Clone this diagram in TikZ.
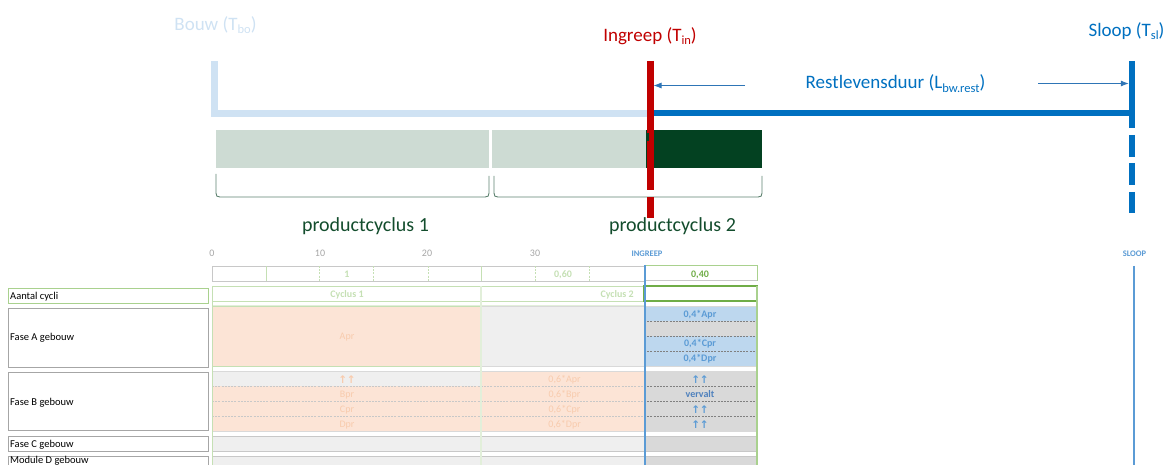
\documentclass[tikz,border=0pt]{standalone}
\usepackage{fontspec}
\setmainfont{Carlito}
\newfontfamily\arrowfont{DejaVu Sans}
\usetikzlibrary{arrows.meta}
\definecolor{lbl}{HTML}{CFE2F3}
\definecolor{dbl}{HTML}{0070C0}
\definecolor{mbl}{HTML}{5B9BD5}
\definecolor{abl}{HTML}{2E75B6}
\definecolor{ired}{HTML}{C00000}
\definecolor{bargr}{HTML}{CDDBD3}
\definecolor{dgrn}{HTML}{034121}
\definecolor{brc}{HTML}{5E8270}
\definecolor{pcgrn}{HTML}{134D2D}
\definecolor{lgrn}{HTML}{C5E0B4}
\definecolor{vlgrn}{HTML}{E2EFDA}
\definecolor{tgrn}{HTML}{A9D18E}
\definecolor{mgrn}{HTML}{70AD47}
\definecolor{salm}{HTML}{FCE4D6}
\definecolor{salmt}{HTML}{F8CBAD}
\definecolor{gry1}{HTML}{EFEFEF}
\definecolor{gry2}{HTML}{D9D9D9}
\definecolor{gryl}{HTML}{C8C8C8}
\definecolor{gryd}{HTML}{808080}
\definecolor{boxg}{HTML}{A6A6A6}
\definecolor{axg}{HTML}{A6A6A6}
\definecolor{cblu}{HTML}{BDD7EE}
\definecolor{vblu}{HTML}{4F81BD}
\newcommand\subtxt[1]{\raisebox{-0.35ex}{\fontsize{12.5}{12.5}\selectfont #1}}
\newcommand\uparr{↑\kern-0.5pt↑}
\begin{document}
\begin{tikzpicture}[x=1pt,y=-1pt,
  big/.style={font=\fontsize{19}{22}\selectfont, anchor=base, inner sep=0pt},
  tbl/.style={font=\fontsize{10}{12}\selectfont, anchor=base, inner sep=0pt},
  tblb/.style={font=\fontsize{10}{12}\selectfont\bfseries, anchor=base, inner sep=0pt},
  lab/.style={font=\fontsize{10.5}{12}\selectfont, anchor=base west, inner sep=0pt},
  labbox/.style={draw=boxg, line width=0.9pt},
  dsh/.style={dash pattern=on 2pt off 1.2pt, line width=0.6pt},
  arr/.style={font=\arrowfont\bfseries\fontsize{10.5}{11}\selectfont, anchor=base, inner sep=0pt}]
\useasboundingbox (0,0) rectangle (1171,465);
\clip (0,0) rectangle (1171,465);

% ---------- top timeline ----------
\node[big, text=lbl] (bouw) at (215.5,30.5) {Bouw (T\subtxt{bo})};
\node[big, text=ired] (ingreep) at (650,41.7) {Ingreep (T\subtxt{in})};
\node[big, text=dbl] (sloop) at (1126.5,36.7) {Sloop (T\subtxt{sl})};
\node[big, text=dbl] (rest) at (895.5,89) {Restlevensduur (L\subtxt{bw.rest})};

% bars
\fill[bargr] (216,130) rectangle (489,168);
\fill[bargr] (492,130) rectangle (650,168);
\fill[dgrn] (646,130) rectangle (762,168);

% braces
\draw[brc, line width=0.9pt] (216,174) -- (216,193) .. controls (216,196) and (217,197) .. (220,197)
  -- (485,197) .. controls (488,197) and (489,196) .. (489,193) -- (489,176);
\draw[brc, line width=0.9pt] (494,176) -- (494,193) .. controls (494,196) and (495,197) .. (498,197)
  -- (758,197) .. controls (761,197) and (762,196) .. (762,193) -- (762,176);

\node[font=\fontsize{20}{22}\selectfont, anchor=base, inner sep=0pt, text=pcgrn] (pc1) at (365.5,231.7) {productcyclus 1};
\node[font=\fontsize{20}{22}\selectfont, anchor=base, inner sep=0pt, text=pcgrn] (pc2) at (672.5,231.7) {productcyclus 2};

% timeline lines
\draw[lbl, line width=6.5pt, line join=miter] (214.5,61) -- (214.5,113.5) -- (650,113.5);
\draw[dbl, line width=6pt] (650,113.5) -- (1132,113.5);
\draw[dbl, line width=6.5pt] (1132,61) -- (1132,128);
\foreach \a/\b in {135/157,163/185,192/213} \draw[dbl, line width=6.5pt] (1132,\a) -- (1132,\b);
\draw[ired, line width=7pt] (650,61) -- (650,190);
\draw[ired, line width=7pt] (650,197) -- (650,218);
\fill[dgrn] (646.5,133.5) rectangle (649.3,141.5);

% arrows
\coordinate (a1s) at (745,85.5);
\coordinate (a1e) at (653.5,85.5);
\coordinate (a2s) at (1038,83.5);
\coordinate (a2e) at (1128.8,83.5);
\draw[abl, line width=0.8pt, -{Latex[length=8pt,width=6pt]}] (a1s) -- (a1e);
\draw[abl, line width=0.8pt, -{Latex[length=8pt,width=6pt]}] (a2s) -- (a2e);

% ---------- table ----------
\node[tbl, text=axg] (t0) at (212,257) {0};
\node[tbl, text=axg] (t10) at (320,257) {10};
\node[tbl, text=axg] (t20) at (427,257) {20};
\node[tbl, text=axg] (t30) at (535,257) {30};
\node[tblb, text=mbl, font=\fontsize{8.5}{10}\selectfont\bfseries] (ting) at (647,257) {INGREEP};
\node[tblb, text=mbl, font=\fontsize{8.5}{10}\selectfont\bfseries] (tsl) at (1134.5,257) {SLOOP};

% left labels
\draw[labbox, draw=tgrn] (8,288) rectangle (208,303);
\node[lab] (l1) at (10,299.5) {Aantal cycli};
\draw[labbox] (8,308) rectangle (208,367);
\node[lab] (l2) at (10,341) {Fase A gebouw};
\draw[labbox] (8,372) rectangle (208,430);
\node[lab] (l3) at (10,405) {Fase B gebouw};
\draw[labbox] (8,436) rectangle (208,451);
\node[lab] (l4) at (10,447) {Fase C gebouw};
\draw[labbox] (8,456) rectangle (208,472);
\node[lab] (l5) at (10,463.2) {Module D gebouw};

% row 1 fractions
\fill[white] (212,266) rectangle (644,281);
\draw[gryl, line width=0.8pt] (212,266) rectangle (644,281);
\foreach \x in {266,481} \draw[lgrn, line width=0.8pt] (\x,266) -- (\x,281);
\foreach \x in {319,373,428,535,589} \draw[lgrn, dsh] (\x,266) -- (\x,281);
\node[tblb, text=lgrn] (f1) at (347,277.5) {1};
\node[tblb, text=lgrn] (f2) at (563,277.5) {0,60};
\draw[tgrn, line width=1pt] (644,266) rectangle (757,281);
\draw[gryl, line width=1pt] (644,281) -- (757,281);
\node[tblb, text=mgrn] (f3) at (700,277.5) {0,40};

% cyclus row
\draw[lgrn, line width=0.9pt] (212,286) rectangle (644,301);
\draw[vlgrn, line width=0.8pt] (212,305) -- (644,305);
\node[tblb, text=lgrn] (c1) at (347,297.5) {Cyclus 1};
\node[tblb, text=lgrn, anchor=base east] (c2) at (634,297.5) {Cyclus 2};
\draw[mgrn, line width=1.3pt] (644,286) rectangle (757,301);

% Fase A
\fill[salm] (212,306) rectangle (481,366);
\draw[lgrn, line width=0.8pt] (212,306) rectangle (481,366);
\fill[gry1] (481,306) rectangle (644,366);
\draw[gry2, line width=0.8pt] (481,306) -- (644,306);
\draw[gry2, line width=0.8pt] (481,366) -- (644,366);
\node[tbl, text=salmt] (apr) at (347,339.5) {Apr};
\fill[cblu] (644,306) rectangle (757,366);
\fill[gry2] (644,321) rectangle (757,336);
\foreach \y in {321,336,351} \draw[gryd, dsh] (644,\y) -- (757,\y);
\draw[gry2, line width=0.8pt] (644,306) -- (757,306);
\draw[gry2, line width=1pt] (644,366) -- (757,366);
\node[tblb, text=mbl] (ba) at (700,317.5) {0,4*Apr};
\node[tblb, text=mbl] (bc) at (700,347) {0,4*Cpr};
\node[tblb, text=mbl] (bd) at (700,362) {0,4*Dpr};

% Fase B
\fill[gry1] (212,371) rectangle (481,386);
\fill[salm] (212,386) rectangle (481,431);
\fill[salm] (481,371) rectangle (644,431);
\fill[gry2] (644,371) rectangle (757,431);
\draw[gry2, line width=0.8pt] (212,371) -- (757,371);
\draw[gry2, line width=1pt] (212,431) -- (757,431);
\foreach \y in {386,401,416} {
  \draw[gryl, dsh] (212,\y) -- (644,\y);
  \draw[gryd, dsh] (644,\y) -- (757,\y);
}
\node[arr, text=salmt] (b1) at (347,383) {\uparr};
\node[tbl, text=salmt] (b2) at (347,397.5) {Bpr};
\node[tbl, text=salmt] (b3) at (347,412.5) {Cpr};
\node[tbl, text=salmt] (b4) at (347,427.5) {Dpr};
\node[tbl, text=salmt] (b5) at (564.5,382.5) {0,6*Apr};
\node[tbl, text=salmt] (b6) at (564.5,397.5) {0,6*Bpr};
\node[tbl, text=salmt] (b7) at (564.5,412.5) {0,6*Cpr};
\node[tbl, text=salmt] (b8) at (564.5,427.5) {0,6*Dpr};
\node[arr, text=mbl] (b9) at (700,383) {\uparr};
\node[tblb, text=vblu] (b10) at (700,397.5) {vervalt};
\node[arr, text=mbl] (b11) at (700,413) {\uparr};
\node[arr, text=mbl] (b12) at (700,428) {\uparr};

% Fase C and Module D
\foreach \ya/\yb in {436/451,456/472} {
  \fill[gry1] (212,\ya) rectangle (644,\yb);
  \fill[gry2] (644,\ya) rectangle (757,\yb);
  \draw[gryl, line width=0.8pt] (212,\ya) -- (757,\ya);
  \draw[gryl, line width=0.8pt] (212,\yb) -- (757,\yb);
}

% vertical grid lines
\draw[lgrn, line width=1pt] (212,286) -- (212,470);
\draw[vlgrn, line width=1.2pt] (481,286) -- (481,470);
\draw[tgrn, line width=1.2pt] (757,286) -- (757,470);
\draw[mbl, line width=2pt] (644.5,265) -- (644.5,470);
\draw[mbl, line width=1.5pt] (1134,266) -- (1134,470);
\end{tikzpicture}
\end{document}
